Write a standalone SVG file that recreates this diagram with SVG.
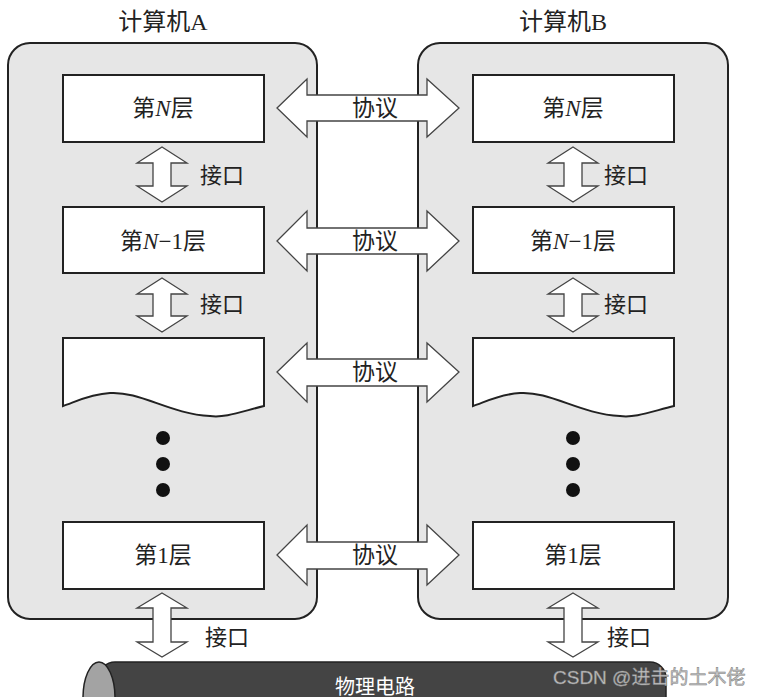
<svg xmlns="http://www.w3.org/2000/svg" width="761" height="697" viewBox="0 0 761 697">
<style>
.computer{fill:#e6e6e6;stroke:#222;stroke-width:2}
.layer{fill:#fff;stroke:#222;stroke-width:2}
.arrow{fill:#fff;stroke:#444;stroke-width:1.3;stroke-linejoin:miter}
.t{font-family:"Liberation Serif","Noto Sans CJK SC",serif;fill:#222}
.lbl{font-size:23px;text-anchor:middle}
.ttl{font-size:24px;text-anchor:middle}
.ifc{font-size:22px}
.dot{fill:#111}
.wm{font-family:"Liberation Sans","Noto Sans CJK SC",sans-serif;font-size:19px;fill:#c4c4c4;stroke:#808080;stroke-width:0.5}
</style>
<rect width="761" height="697" fill="#fff"/>
<g id="computerA">
<rect class="computer" x="8" y="43" width="309" height="576" rx="22"/>
<text class="t ttl" x="163" y="30">计算机A</text>
</g>
<g id="computerB">
<rect class="computer" x="418" y="43" width="310" height="576" rx="22"/>
<text class="t ttl" x="563" y="30">计算机B</text>
</g>
<g id="A-layerN">
<rect class="layer" x="63" y="75" width="201" height="67"/>
<text class="t lbl" x="163" y="116">第<tspan font-style="italic">N</tspan>层</text>
</g>
<g id="A-layerN-1">
<rect class="layer" x="63" y="207" width="201" height="66"/>
<text class="t lbl" x="163" y="249">第<tspan font-style="italic">N</tspan>−1层</text>
</g>
<g id="A-layerMid">
<path class="layer" d="M63,338 H264 V406 C240,412 225,418 210,416 C170,414 140,391 110,393 C90,394 75,402 63,406 Z"/>
<circle class="dot" cx="163" cy="438" r="7"/>
<circle class="dot" cx="163" cy="464" r="7"/>
<circle class="dot" cx="163" cy="490" r="7"/>
</g>
<g id="A-layer1">
<rect class="layer" x="63" y="522" width="201" height="67"/>
<text class="t lbl" x="163" y="563">第1层</text>
</g>
<g id="B-layerN">
<rect class="layer" x="473" y="75" width="201" height="67"/>
<text class="t lbl" x="573" y="116">第<tspan font-style="italic">N</tspan>层</text>
</g>
<g id="B-layerN-1">
<rect class="layer" x="473" y="207" width="201" height="66"/>
<text class="t lbl" x="573" y="249">第<tspan font-style="italic">N</tspan>−1层</text>
</g>
<g id="B-layerMid">
<path class="layer" d="M473,338 H674 V406 C650,412 635,418 620,416 C580,414 550,391 520,393 C500,394 485,402 473,406 Z"/>
<circle class="dot" cx="573" cy="438" r="7"/>
<circle class="dot" cx="573" cy="464" r="7"/>
<circle class="dot" cx="573" cy="490" r="7"/>
</g>
<g id="B-layer1">
<rect class="layer" x="473" y="522" width="201" height="67"/>
<text class="t lbl" x="573" y="563">第1层</text>
</g>
<g id="circuit">
<rect x="99" y="662" width="567" height="72" rx="16" fill="#444" stroke="#222" stroke-width="1.5"/>
<ellipse cx="99" cy="698" rx="16" ry="36" fill="#a3a3a3" stroke="#222" stroke-width="1.5"/>
<text class="t" x="375" y="694" font-size="20" text-anchor="middle" style="fill:#fff">物理电路</text>
</g>
<g id="connectors">
<polygon class="arrow" points="277,108 307,79 307,95 427,95 427,79 459,108 427,137 427,121 307,121 307,137"/>
<polygon class="arrow" points="277,241 307,211 307,228 427,228 427,211 459,241 427,271 427,254 307,254 307,271"/>
<polygon class="arrow" points="277,372 307,343 307,359 427,359 427,343 459,372 427,402 427,386 307,386 307,402"/>
<polygon class="arrow" points="277,555 307,525 307,542 427,542 427,525 459,555 427,585 427,569 307,569 307,585"/>
<polygon class="arrow" points="162,147 187,163 171,163 171,186 187,186 162,202 137,186 153,186 153,163 137,163"/>
<polygon class="arrow" points="162,278 187,294 171,294 171,316 187,316 162,332 137,316 153,316 153,294 137,294"/>
<polygon class="arrow" points="162,593 187,608 171,608 171,642 187,642 162,657 137,642 153,642 153,608 137,608"/>
<polygon class="arrow" points="573,147 598,163 582,163 582,186 598,186 573,202 548,186 564,186 564,163 548,163"/>
<polygon class="arrow" points="573,278 598,294 582,294 582,316 598,316 573,332 548,316 564,316 564,294 548,294"/>
<polygon class="arrow" points="573,593 598,608 582,608 582,642 598,642 573,657 548,642 564,642 564,608 548,608"/>
<text class="t lbl" x="375" y="116">协议</text>
<text class="t lbl" x="375" y="249">协议</text>
<text class="t lbl" x="375" y="380">协议</text>
<text class="t lbl" x="375" y="563">协议</text>
<text class="t ifc" x="200" y="183">接口</text>
<text class="t ifc" x="200" y="312">接口</text>
<text class="t ifc" x="205" y="645">接口</text>
<text class="t ifc" x="604" y="183">接口</text>
<text class="t ifc" x="604" y="312">接口</text>
<text class="t ifc" x="607" y="645">接口</text>
</g>
<text class="wm" x="553" y="684">CSDN @进击的土木佬</text>
</svg>
